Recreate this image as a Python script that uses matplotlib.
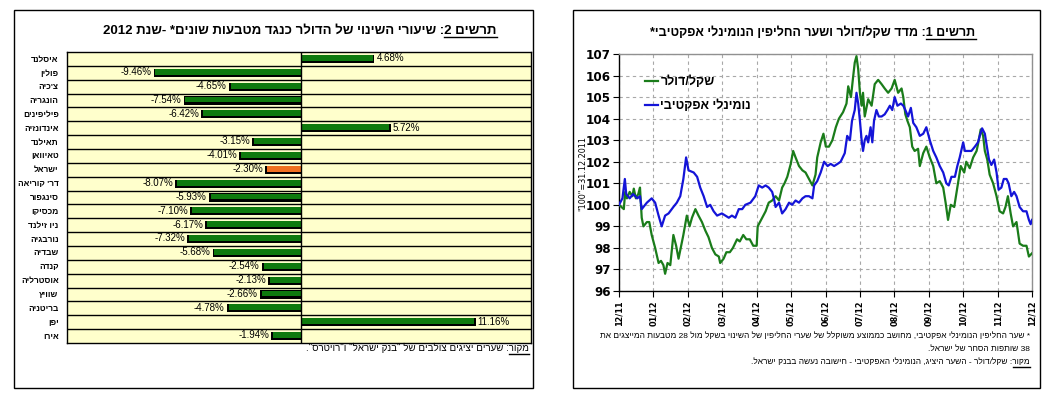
import re
import numpy as np
import matplotlib
matplotlib.use('Agg')
import matplotlib.pyplot as plt
from matplotlib.patches import Rectangle
from matplotlib.lines import Line2D

# ---------------- data ----------------
countries = ["איסלנד", "פולין", "צ'כיה", "הונגריה", "פיליפינים", "אינדונזיה", "תאילנד",
             "טאיוואן", "ישראל", "דר' קוריאה", "סינגפור", "מכסיקו", "ניו זילנד", "נורבגיה",
             "שבדיה", "קנדה", "אוסטרליה", "שוויץ", "בריטניה", "יפן", "אירו"]
changes = [4.68, -9.46, -4.65, -7.54, -6.42, 5.72, -3.15, -4.01, -2.30, -8.07, -5.93,
           -7.10, -6.17, -7.32, -5.68, -2.54, -2.13, -2.66, -4.78, 11.16, -1.94]
highlight = "ישראל"

month_labels = ["12/11", "01/12", "02/12", "03/12", "04/12", "05/12", "06/12",
                "07/12", "08/12", "09/12", "10/12", "11/12", "12/12"]

usd_month = [0.00, 0.07, 0.14, 0.18, 0.23, 0.31, 0.39, 0.43, 0.49, 0.56, 0.61, 0.66, 0.71, 0.81,
             0.88, 0.95, 1.05, 1.15, 1.22, 1.29, 1.34, 1.41, 1.49, 1.58, 1.66, 1.73, 1.83, 1.87,
             1.97, 2.05, 2.12, 2.22, 2.31, 2.41, 2.51, 2.60, 2.70, 2.80, 2.90, 2.94, 3.04, 3.12,
             3.22, 3.31, 3.43, 3.51, 3.61, 3.70, 3.80, 3.90, 4.00, 4.03, 4.16, 4.26, 4.35, 4.45,
             4.55, 4.65, 4.74, 4.81, 4.89, 4.99, 5.06, 5.13, 5.23, 5.33, 5.42, 5.52, 5.62, 5.71,
             5.76, 5.86, 5.94, 6.01, 6.10, 6.20, 6.30, 6.39, 6.51, 6.61, 6.66, 6.74, 6.80, 6.85,
             6.90, 6.95, 7.00, 7.05, 7.09, 7.14, 7.24, 7.34, 7.43, 7.53, 7.63, 7.72, 7.82, 7.92,
             8.01, 8.11, 8.21, 8.26, 8.32, 8.38, 8.45, 8.52, 8.59, 8.69, 8.74, 8.84, 8.93, 9.03,
             9.13, 9.22, 9.32, 9.42, 9.49, 9.56, 9.64, 9.74, 9.83, 9.93, 10.03, 10.09, 10.19,
             10.29, 10.39, 10.43, 10.51, 10.58, 10.63, 10.70, 10.77, 10.87, 10.97, 11.06, 11.16,
             11.23, 11.30, 11.38, 11.45, 11.55, 11.64, 11.74, 11.84, 11.91, 11.97, 12.00]
usd_value = [100.0, 99.9, 99.8, 100.6, 100.3, 100.6, 100.4, 100.75, 100.3, 100.5, 100.8, 99.4,
             99.0, 99.2, 99.2, 98.6, 98.0, 97.3, 97.4, 97.2, 96.8, 97.3, 97.2, 98.6, 98.1, 97.5,
             98.3, 98.6, 99.5, 99.0, 99.4, 99.8, 99.5, 99.2, 98.8, 98.5, 98.0, 97.7, 97.6, 97.3,
             97.5, 97.8, 97.8, 98.0, 98.4, 98.3, 98.6, 98.4, 98.4, 98.1, 98.1, 99.0, 99.4, 99.7,
             100.1, 100.2, 100.4, 100.2, 100.8, 101.0, 101.3, 101.9, 102.5, 102.2, 101.8, 101.6,
             101.5, 101.2, 100.9, 101.4, 102.2, 102.9, 103.3, 102.7, 102.7, 103.0, 103.6, 104.0,
             104.3, 104.7, 105.5, 105.0, 105.9, 106.6, 106.9, 106.3, 105.2, 104.6, 105.2, 104.1,
             104.9, 104.6, 105.6, 105.8, 105.6, 105.4, 105.2, 105.4, 105.8, 105.2, 105.4, 105.0,
             104.2, 103.9, 103.6, 102.7, 102.5, 102.6, 101.8, 102.4, 102.7, 102.2, 101.8, 101.0,
             101.1, 100.8, 100.1, 99.3, 100.0, 99.9, 100.8, 101.8, 101.5, 102.0, 101.7, 102.2,
             102.5, 102.8, 103.5, 103.2, 102.5, 102.1, 101.4, 101.0, 100.4, 99.7, 99.6, 99.9,
             100.4, 99.6, 99.0, 99.2, 98.2, 98.1, 98.1, 97.6, 97.7, 97.75]

neer_month = [0.00, 0.10, 0.17, 0.21, 0.31, 0.41, 0.53, 0.61, 0.66, 0.81, 0.95, 1.05, 1.15, 1.24,
              1.34, 1.44, 1.58, 1.68, 1.78, 1.87, 1.95, 2.02, 2.17, 2.27, 2.36, 2.46, 2.56, 2.65,
              2.75, 2.85, 2.99, 3.09, 3.19, 3.28, 3.38, 3.48, 3.58, 3.67, 3.82, 3.96, 4.06, 4.16,
              4.26, 4.35, 4.45, 4.50, 4.55, 4.65, 4.74, 4.84, 4.94, 5.03, 5.13, 5.23, 5.33, 5.42,
              5.52, 5.62, 5.67, 5.76, 5.86, 5.96, 6.06, 6.15, 6.25, 6.35, 6.44, 6.56, 6.63, 6.71,
              6.77, 6.85, 6.90, 6.95, 7.00, 7.05, 7.09, 7.14, 7.19, 7.24, 7.31, 7.36, 7.41, 7.48,
              7.55, 7.63, 7.72, 7.80, 7.87, 7.94, 8.01, 8.09, 8.19, 8.26, 8.32, 8.40, 8.48, 8.55,
              8.64, 8.74, 8.84, 8.93, 9.03, 9.13, 9.22, 9.32, 9.42, 9.51, 9.58, 9.66, 9.76, 9.83,
              9.90, 10.00, 10.05, 10.14, 10.24, 10.34, 10.43, 10.50, 10.55, 10.63, 10.69, 10.75,
              10.82, 10.90, 10.97, 11.03, 11.11, 11.18, 11.26, 11.32, 11.40, 11.48, 11.55, 11.64,
              11.74, 11.84, 11.91, 11.96, 12.00]
neer_value = [100.0, 100.3, 101.2, 100.5, 100.3, 100.5, 100.3, 100.4, 99.8, 100.1, 100.3, 100.1,
              99.5, 99.0, 99.5, 99.6, 99.9, 100.1, 100.4, 101.2, 102.2, 101.6, 101.5, 101.3,
              100.8, 100.4, 99.9, 100.0, 99.7, 99.5, 99.6, 99.5, 99.4, 99.5, 99.4, 99.8, 99.8,
              100.0, 100.1, 100.4, 100.9, 100.8, 100.9, 100.8, 100.6, 100.3, 99.9, 100.1, 99.6,
              99.8, 100.1, 100.0, 100.2, 100.1, 100.3, 100.4, 100.4, 100.3, 100.9, 101.1, 101.5,
              102.0, 101.8, 101.9, 101.8, 101.9, 102.0, 102.4, 103.2, 103.0, 103.9, 104.4, 105.2,
              104.7, 103.9, 103.0, 102.5, 103.0, 103.2, 102.9, 103.6, 102.9, 103.9, 104.4, 104.1,
              104.1, 104.2, 104.4, 104.6, 104.4, 105.0, 104.6, 104.7, 104.6, 104.4, 104.1, 104.5,
              103.8, 103.6, 103.2, 103.3, 103.6, 103.0, 102.5, 102.2, 101.8, 101.5, 101.0, 100.9,
              101.3, 101.3, 101.8, 102.2, 102.9, 102.5, 102.5, 102.5, 102.7, 102.9, 103.3, 103.55,
              103.3, 102.7, 102.1, 101.85, 102.1, 101.5, 100.7, 100.8, 101.2, 101.2, 101.0, 100.4,
              100.6, 100.4, 99.9, 99.7, 99.7, 99.3, 99.1, 99.3]

# ---------------- helpers ----------------
W, H = 1058, 394
HEB = 'Liberation Sans'
COND = 'DejaVu Sans'


def vis(s):
    """Logical Hebrew string -> visual order (simple RTL bidi)."""
    toks = re.findall(r'\d+(?:[.,/]\d+)*%?|[A-Za-z]+|.', s)
    mirror = {'(': ')', ')': '(', '[': ']', ']': '['}
    return ''.join(mirror.get(t, t) for t in reversed(toks))


fig = plt.figure(figsize=(W / 100, H / 100), dpi=100)
fig.patch.set_facecolor('white')
renderer = fig.canvas.get_renderer()


def fx(px):
    return px / W


def fy(py):
    return 1 - py / H


def rtl_text(x_px, y_px, s, ha='right', underline=None, **kw):
    t = fig.text(fx(x_px), fy(y_px), vis(s), ha=ha, va='baseline', family=HEB, **kw)
    if underline:
        bb = t.get_window_extent(renderer)
        tmp = fig.text(0, 0, vis(underline), family=HEB, **kw)
        w = tmp.get_window_extent(renderer).width
        tmp.remove()
        x1 = bb.x1
        x0 = x1 - w
        yl = H - y_px - 2.5
        fig.add_artist(Line2D([x0 / W, x1 / W], [yl / H, yl / H], color='black', lw=1.0,
                              transform=fig.transFigure))
    return t


# panel frames
fig.add_artist(Rectangle((fx(14), fy(388)), (533 - 14) / W, (388 - 10) / H, fill=False,
                         edgecolor='black', lw=1.0, transform=fig.transFigure))
fig.add_artist(Rectangle((fx(573), fy(388)), (1040 - 573) / W, (388 - 10) / H, fill=False,
                         edgecolor='black', lw=1.0, transform=fig.transFigure))

# ---------------- left: bar chart ----------------
axL = fig.add_axes([fx(67), fy(343), (531 - 67) / W, (343 - 52) / H])
axL.set_facecolor('#FFFFCC')
y = np.arange(len(countries))
colors = ['#F07020' if c == highlight else '#0E7A0E' for c in countries]
axL.barh(y + 0.0, changes, height=0.58, color='black', zorder=2)
tip = [v - np.sign(v) * 0.12 for v in changes]
axL.barh(y - 0.07, tip, height=0.42, color=colors, zorder=3)
for yi, v in zip(y, changes):
    lab = f"{v:.2f}%"
    if v >= 0:
        axL.text(v + 0.12, yi - 0.05, lab, ha='left', va='center', fontsize=7,
                 family=HEB, zorder=4)
    else:
        axL.text(v - 0.12, yi - 0.05, lab, ha='right', va='center', fontsize=7,
                 family=HEB, zorder=4)
for yi in y[:-1]:
    axL.axhline(yi + 0.5, color='black', lw=1.0, zorder=1)
axL.axvline(0, color='black', lw=1.0, zorder=5)
axL.set_xlim(-15, 14.7)
axL.set_ylim(len(countries) - 0.5, -0.5)
axL.set_xticks([])
axL.set_yticks(y)
axL.set_yticklabels([vis(c) for c in countries], family=HEB, fontsize=6, fontweight='bold')
axL.tick_params(axis='y', length=0, pad=6)
for sp in axL.spines.values():
    sp.set_color('black')
    sp.set_linewidth(1.0)

rtl_text(300, 34, "תרשים 2: שיעורי השינוי של הדולר כנגד מטבעות שונים* -שנת 2012", ha='center',
         underline="תרשים 2", fontsize=9.5, fontweight='bold')
rtl_text(529, 351, 'מקור: שערים יציגים צולבים של "בנק ישראל" ו"רויטרס".', underline="מקור",
         fontsize=7)

# ---------------- right: line chart ----------------
axR = fig.add_axes([fx(619), fy(291), (1032 - 619) / W, (291 - 54) / H])
axR.plot(usd_month, usd_value, color='#1A7C1A', lw=1.6, label=vis("שקל/דולר"), zorder=3)
axR.plot(neer_month, neer_value, color='#1414D8', lw=1.6, label=vis("נומינלי אפקטיבי"), zorder=4)
axR.set_xlim(0, 12)
axR.set_ylim(96, 107)
axR.set_xticks(range(13))
axR.set_xticklabels(month_labels, rotation=90, fontsize=6.5, fontweight='bold', family=COND,
                    fontstretch='condensed')
axR.set_yticks(range(96, 108))
axR.set_yticklabels([str(v) for v in range(96, 108)], fontsize=9.5, fontweight='bold',
                    family=COND, fontstretch='condensed')
axR.tick_params(axis='both', direction='out', length=4, width=0.8, color='black')
axR.tick_params(axis='y', pad=2)
axR.tick_params(axis='x', pad=3)
axR.grid(True, color='#A8A8A8', lw=0.8, linestyle=(0, (3, 3)))
axR.set_axisbelow(True)
for side in ['left', 'bottom']:
    axR.spines[side].set_color('black')
    axR.spines[side].set_linewidth(1.0)
for side in ['top', 'right']:
    axR.spines[side].set_color('#909090')
    axR.spines[side].set_linewidth(1.0)
leg = axR.legend(loc='upper left', bbox_to_anchor=(0.035, 0.955), frameon=False,
                 handlelength=1.1, handletextpad=0.15, labelspacing=0.9,
                 prop={'family': HEB, 'size': 9, 'weight': 'bold'})

fig.text(fx(583), fy(173), '"100"=31.12.2011', rotation=90, ha='center', va='center',
         fontsize=6.5, family=COND, fontstretch='condensed')

rtl_text(813, 36, "תרשים 1: מדד שקל/דולר ושער החליפין הנומינלי אפקטיבי*", ha='center',
         underline="תרשים 1", fontsize=9, fontweight='bold')
rtl_text(1030, 338, "* שער החליפין הנומינלי אפקטיבי, מחושב כממוצע משוקלל של שערי החליפין של "
                    "השינוי בשקל מול 28 מטבעות המייצגים את", fontsize=6)
rtl_text(1030, 351, "38 שותפות הסחר של ישראל.", fontsize=6)
rtl_text(1030, 364, "מקור: שקל/דולר - השער היציג, הנומינלי האפקטיבי - חישובה נעשה בבנק ישראל.",
         underline="מקור", fontsize=6)

fig.savefig('out.png', dpi=100)
